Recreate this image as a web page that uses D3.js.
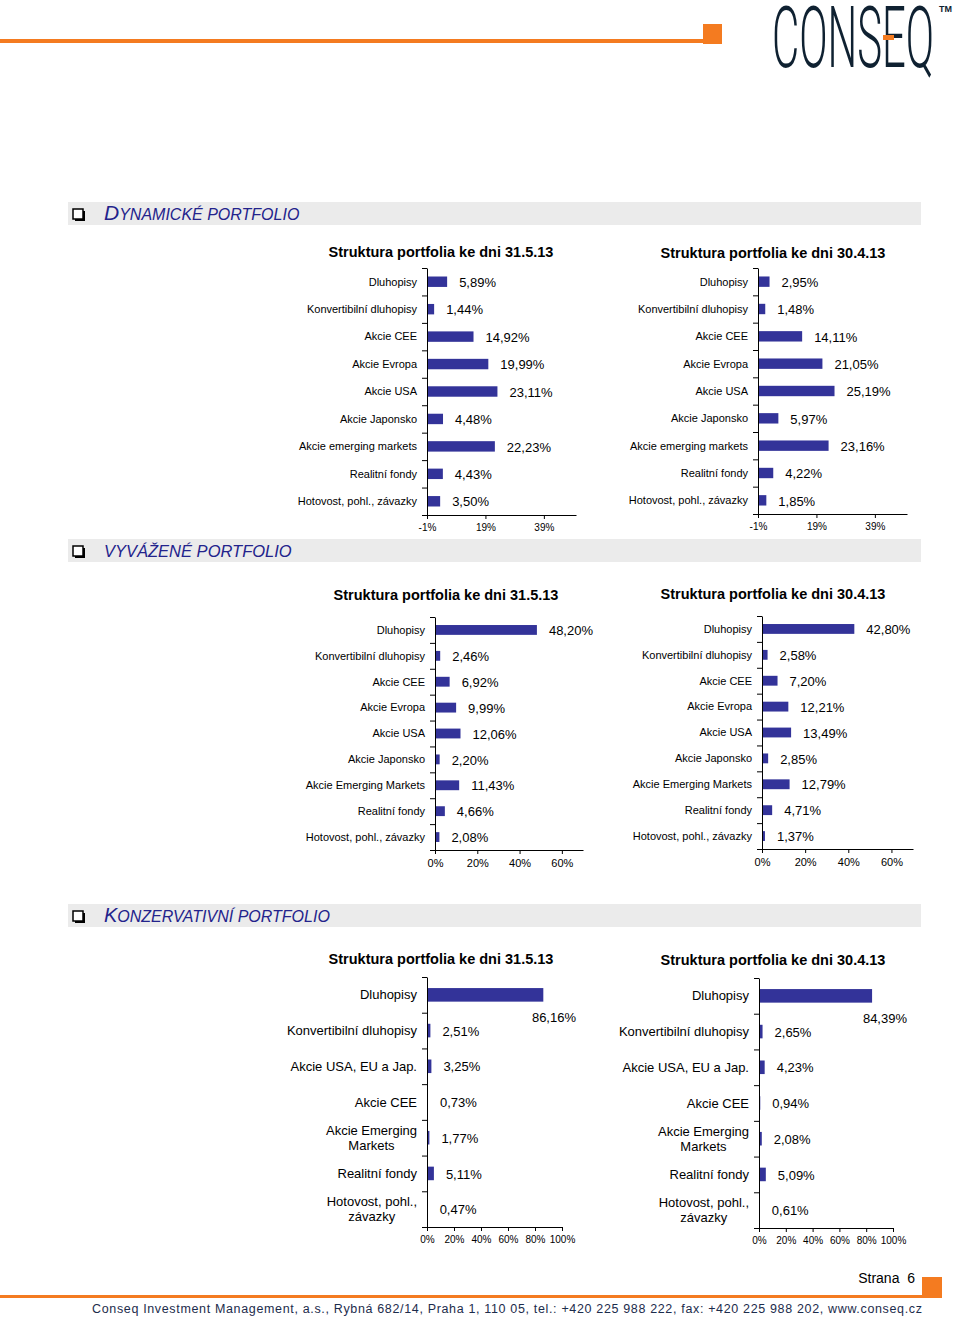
<!DOCTYPE html>
<html>
<head>
<meta charset="utf-8">
<script src="https://cdn.jsdelivr.net/npm/d3@7"></script>
<style>
  body { margin: 0; background: #fff; }
  svg { display: block; font-family: "Liberation Sans", Arial, sans-serif; }
  .axis path, .axis line { stroke: #000; }
</style>
</head>
<body>
<script>
// data
const dynCats = ["Dluhopisy", "Konvertibilní dluhopisy", "Akcie CEE", "Akcie Evropa", "Akcie USA",
  "Akcie Japonsko", "Akcie emerging markets", "Realitní fondy", "Hotovost, pohl., závazky"];
const dynMay = [5.89, 1.44, 14.92, 19.99, 23.11, 4.48, 22.23, 4.43, 3.50];
const dynApr = [2.95, 1.48, 14.11, 21.05, 25.19, 5.97, 23.16, 4.22, 1.85];
const dynTicks = [-1, 19, 39];

const balCats = ["Dluhopisy", "Konvertibilní dluhopisy", "Akcie CEE", "Akcie Evropa", "Akcie USA",
  "Akcie Japonsko", "Akcie Emerging Markets", "Realitní fondy", "Hotovost, pohl., závazky"];
const balMay = [48.20, 2.46, 6.92, 9.99, 12.06, 2.20, 11.43, 4.66, 2.08];
const balApr = [42.80, 2.58, 7.20, 12.21, 13.49, 2.85, 12.79, 4.71, 1.37];
const balTicks = [0, 20, 40, 60];

const conCats = ["Dluhopisy", "Konvertibilní dluhopisy", "Akcie USA, EU a Jap.", "Akcie CEE",
  "Akcie Emerging\nMarkets", "Realitní fondy", "Hotovost, pohl.,\nzávazky"];
const conMay = [86.16, 2.51, 3.25, 0.73, 1.77, 5.11, 0.47];
const conApr = [84.39, 2.65, 4.23, 0.94, 2.08, 5.09, 0.61];
const conTicks = [0, 20, 40, 60, 80, 100];

const titleMay = "Struktura portfolia ke dni 31.5.13";
const titleApr = "Struktura portfolia ke dni 30.4.13";

const orange = "#f47b20";
const navy = "#23238c";
const barColor = "#333399";

const svg = d3.select("body").append("svg")
  .attr("width", 960)
  .attr("height", 1321);

// header
svg.append("rect").attr("x", 0).attr("y", 39).attr("width", 705).attr("height", 4).attr("fill", orange);
svg.append("rect").attr("x", 703).attr("y", 24).attr("width", 19).attr("height", 20).attr("fill", orange);
svg.append("text")
  .attr("x", 772).attr("y", 67)
  .attr("textLength", 162).attr("lengthAdjust", "spacingAndGlyphs")
  .style("font-family", "Roboto, sans-serif").style("font-weight", 300)
  .style("font-size", "85px").attr("fill", "#0f2131")
  .text("CONSEQ");
svg.append("rect").attr("x", 883).attr("y", 35).attr("width", 11).attr("height", 5).attr("fill", orange);
svg.append("text").attr("x", 939).attr("y", 12)
  .style("font-size", "9px").style("font-weight", "bold").attr("fill", "#0f2131").text("TM");

// section header bands
function sectionHeader(y, first, rest, bigSize, smallSize) {
  svg.append("rect").attr("x", 68).attr("y", y).attr("width", 853).attr("height", 23).attr("fill", "#ebebeb");
  // checkbox glyph
  svg.append("rect").attr("x", 75).attr("y", y + 9).attr("width", 10).attr("height", 10).attr("fill", "#000");
  svg.append("rect").attr("x", 73).attr("y", y + 7).attr("width", 10).attr("height", 10)
    .attr("fill", "#fff").attr("stroke", "#000").attr("stroke-width", 1.5);
  const t = svg.append("text").attr("x", 104).attr("y", y + 18)
    .attr("fill", navy).style("font-style", "italic");
  t.append("tspan").style("font-size", bigSize + "px").text(first);
  t.append("tspan").style("font-size", smallSize + "px").text(rest);
}
sectionHeader(202, "D", "YNAMICKÉ PORTFOLIO", 21, 16);
sectionHeader(539, "V", "YVÁŽENÉ PORTFOLIO", 16.5, 16.5);
sectionHeader(904, "K", "ONZERVATIVNÍ PORTFOLIO", 20, 16);

// one bar chart
function drawChart(o) {
  const g = svg.append("g");
  const x = d3.scaleLinear().domain(o.domain).range([o.left, o.right]);
  const y = d3.scaleBand().domain(o.cats).range([o.top, o.bottom]).paddingInner(0.62).paddingOuter(0.31);
  const edge = d3.scaleLinear().domain([0, o.cats.length]).range([o.top, o.bottom]);

  g.append("text")
    .attr("x", o.titleX).attr("y", o.titleY)
    .attr("text-anchor", "middle")
    .style("font-size", "14.5px").style("font-weight", "bold")
    .text(o.title);

  g.selectAll(".bar")
    .data(o.values)
    .enter()
    .append("rect")
    .attr("class", "bar")
    .attr("x", x(o.domain[0]))
    .attr("y", (d, i) => y(o.cats[i]))
    .attr("width", d => x(d) - x(o.domain[0]))
    .attr("height", y.bandwidth())
    .attr("fill", barColor);

  // category axis with ticks between categories
  g.append("g").attr("class", "axis")
    .attr("transform", "translate(" + o.left + ",0)")
    .call(d3.axisLeft(edge).tickValues(d3.range(o.cats.length + 1)).tickFormat("").tickSize(5).tickSizeOuter(0));

  // value axis
  const xa = g.append("g").attr("class", "axis")
    .attr("transform", "translate(0," + o.bottom + ")")
    .call(d3.axisBottom(x).tickValues(o.ticks).tickFormat(d => d + "%").tickSize(4).tickSizeOuter(0));
  xa.selectAll("text").style("font-size", o.tickSize + "px").style("font-family", "Liberation Sans, Arial, sans-serif")
    .attr("dy", "0.9em");

  // category labels
  o.cats.forEach(c => {
    const lines = c.split("\n");
    const cy = y(c) + y.bandwidth() / 2;
    const lh = o.catSize * 1.12;
    const t = g.append("text")
      .attr("text-anchor", lines.length > 1 ? "middle" : "end")
      .style("font-size", o.catSize + "px");
    lines.forEach((ln, k) => {
      t.append("tspan").attr("x", 0)
        .attr("y", cy + (k - (lines.length - 1) / 2) * lh)
        .attr("dy", "0.35em").text(ln);
    });
    if (lines.length > 1) {
      const w = t.node().getBBox().width;
      t.attr("transform", "translate(" + (o.left - 10 - w / 2) + ",0)");
    } else {
      t.attr("transform", "translate(" + (o.left - 10) + ",0)");
    }
  });

  // value labels
  o.values.forEach((v, i) => {
    const cy = y(o.cats[i]) + y.bandwidth() / 2;
    const lab = g.append("text")
      .style("font-size", "13px")
      .attr("x", x(v) + 12).attr("y", cy).attr("dy", "0.4em")
      .text(d3.format(".2f")(v).replace(".", ",") + "%");
    const w = lab.node().getComputedTextLength();
    if (x(v) + 12 + w > o.right + 16) {
      lab.attr("x", o.right + 14 - w).attr("y", cy + y.step() * 0.62);
    }
  });
}

drawChart({ title: titleMay, titleX: 441, titleY: 257, cats: dynCats, values: dynMay, domain: [-1, 50], ticks: dynTicks,
  left: 427, right: 576, top: 268, bottom: 515, catSize: 11, tickSize: 10 });
drawChart({ title: titleApr, titleX: 773, titleY: 258, cats: dynCats, values: dynApr, domain: [-1, 50], ticks: dynTicks,
  left: 758, right: 907, top: 268, bottom: 514, catSize: 11, tickSize: 10 });
drawChart({ title: titleMay, titleX: 446, titleY: 600, cats: balCats, values: balMay, domain: [0, 70], ticks: balTicks,
  left: 435, right: 583, top: 617, bottom: 850, catSize: 11, tickSize: 11 });
drawChart({ title: titleApr, titleX: 773, titleY: 599, cats: balCats, values: balApr, domain: [0, 70], ticks: balTicks,
  left: 762, right: 913, top: 616, bottom: 849, catSize: 11, tickSize: 11 });
drawChart({ title: titleMay, titleX: 441, titleY: 964, cats: conCats, values: conMay, domain: [0, 100], ticks: conTicks,
  left: 427, right: 562, top: 977, bottom: 1227, catSize: 13, tickSize: 10 });
drawChart({ title: titleApr, titleX: 773, titleY: 965, cats: conCats, values: conApr, domain: [0, 100], ticks: conTicks,
  left: 759, right: 893, top: 978, bottom: 1228, catSize: 13, tickSize: 10 });

// footer
svg.append("text").attr("x", 915).attr("y", 1283).attr("text-anchor", "end")
  .style("font-size", "14px").text("Strana  6").attr("xml:space", "preserve");
svg.append("rect").attr("x", 0).attr("y", 1295).attr("width", 924).attr("height", 3).attr("fill", orange);
svg.append("rect").attr("x", 922).attr("y", 1277).attr("width", 20).attr("height", 21).attr("fill", orange);
svg.append("text").attr("x", 92).attr("y", 1313)
  .attr("textLength", 830).attr("lengthAdjust", "spacing")
  .style("font-size", "12.5px").attr("fill", "#1c2c4c")
  .text("Conseq Investment Management, a.s., Rybná 682/14, Praha 1, 110 05,  tel.: +420 225 988 222,   fax: +420 225 988 202, www.conseq.cz");
</script>
</body>
</html>
